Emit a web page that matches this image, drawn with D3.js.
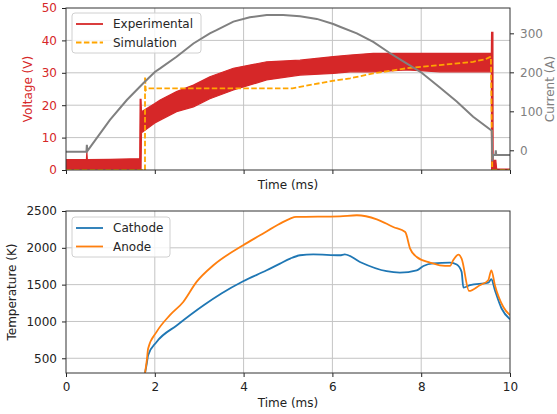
<!DOCTYPE html>
<html>
<head>
<meta charset="utf-8">
<script src="https://cdn.jsdelivr.net/npm/d3@7"></script>
<style>
  body { margin: 0; background: #fff; }
  svg { font-family: "DejaVu Sans", sans-serif; }
</style>
</head>
<body>
<svg id="chart" width="557" height="414"></svg>
<script>
// ---- top panel: experimental voltage (noisy band, read as lower/upper envelope)
var expTime  = [0, 0.46, 0.47, 0.48, 1.0, 1.66, 1.67, 1.69, 1.70, 2.0, 2.12, 2.49, 2.87, 3.24, 3.77, 4.52, 5.27, 6.02, 6.4, 6.92, 7.67, 8.42, 9.55, 9.58, 9.585, 9.615, 9.62, 9.64, 9.68, 9.7, 10];
var expLower = [0.3, 0.3, 0.3, 0.3, 0.3, 0.3, 0.3, 0.3, 11.5, 14.5, 15.4, 18.0, 19.5, 22.0, 24.7, 27.8, 29.3, 29.8, 30.3, 30.3, 30.9, 30.3, 30.3, 30.3, 0, 0, 0, 0, 0, 0, 0];
var expUpper = [3.2, 3.2, 5.6, 3.2, 3.3, 3.5, 21.8, 21.8, 18.0, 20.5, 21.6, 24.2, 26.2, 28.8, 31.4, 33.4, 33.9, 35.0, 35.5, 36.0, 36.0, 36.0, 36.0, 36.0, 42.5, 42.5, 0.3, 3.0, 3.0, 0.3, 0.3];

// simulated voltage
var simTime = [0, 1.779, 1.78, 1.795, 1.84, 5.1, 5.6, 6.0, 6.4, 6.92, 7.67, 8.42, 9.17, 9.45, 9.57, 9.6, 10];
var simVolt = [0, 0, 28.8, 24.6, 25.2, 25.2, 26.5, 27.5, 28.3, 29.8, 31.4, 32.4, 33.4, 34.2, 35.0, 0, 0];

// current (right axis)
var curTime = [0, 0.46, 0.47, 0.48, 0.5, 0.99, 1.37, 1.74, 2.0, 2.12, 2.49, 2.87, 3.24, 3.39, 3.77, 4.14, 4.52, 4.89, 5.27, 5.65, 6.02, 6.17, 6.55, 6.92, 7.3, 7.67, 8.01, 8.42, 8.8, 9.17, 9.59, 9.6, 9.62, 9.67, 9.68, 9.69, 10];
var current = [-4, -4, 14, -2, 1, 78, 129, 172, 201, 210, 240, 274, 300, 308, 330, 341, 347, 347, 344, 337, 324, 317, 300, 278, 249, 223, 199, 161, 125, 86, 50, -28, -12, -12, 0, -12, -12];

// ---- bottom panel: temperatures
var cathTime = [1.78, 1.82, 1.85, 2.04, 2.5, 3.1, 3.5, 3.99, 4.52, 4.82, 5.05, 5.27, 5.57, 6.17, 6.28, 6.62, 7.22, 7.52, 7.9, 8.05, 8.27, 8.65, 8.8, 8.91, 8.95, 9.1, 9.51, 9.58, 9.66, 9.81, 10];
var cathTemp = [300, 430, 542, 722, 949, 1220, 1380, 1546, 1695, 1786, 1854, 1899, 1912, 1899, 1912, 1808, 1682, 1664, 1695, 1754, 1790, 1800, 1773, 1673, 1460, 1492, 1528, 1573, 1424, 1176, 1030];
var anodTime = [1.78, 1.82, 1.85, 2.04, 2.34, 2.64, 2.94, 3.32, 3.99, 4.37, 4.82, 5.05, 5.18, 6.17, 6.55, 7.0, 7.37, 7.64, 7.75, 7.9, 8.2, 8.42, 8.65, 8.72, 8.84, 8.91, 9.08, 9.32, 9.51, 9.58, 9.66, 9.85, 10];
var anodTemp = [300, 470, 633, 858, 1085, 1265, 1537, 1763, 2035, 2170, 2329, 2397, 2419, 2428, 2442, 2387, 2283, 2215, 1990, 1876, 1800, 1763, 1754, 1831, 1908, 1854, 1414, 1492, 1560, 1695, 1492, 1197, 1085];

var timeTicks = [0, 2, 4, 6, 8, 10];
var voltTicks = [0, 10, 20, 30, 40, 50];
var curTicks = [0, 100, 200, 300];
var tempTicks = [500, 1000, 1500, 2000, 2500];

var RED = "#d62728", ORANGE = "#ffa500", GREY = "#808080";
var BLUE = "#1f77b4", AORANGE = "#ff7f0e", GRID = "#c4c4c4";

var svg = d3.select("#chart");
var left = 66, right = 510;

var x = d3.scaleLinear().domain([0, 10]).range([left, right]);

// top panel
var t1 = 8, b1 = 170;
var yV = d3.scaleLinear().domain([0, 50]).range([b1, t1]);
var yI = d3.scaleLinear().domain([-50.5, 365]).range([b1, t1]);
// bottom panel
var t2 = 211, b2 = 373;
var yT = d3.scaleLinear().domain([300, 2500]).range([b2, t2]);

function clip(id, top, bottom) {
  svg.append("clipPath").attr("id", id).append("rect")
    .attr("x", left).attr("y", top).attr("width", right - left).attr("height", bottom - top);
}
clip("c1", t1, b1);
clip("c2", t2, b2);

function grid(yScale, yVals, top, bottom) {
  var g = svg.append("g");
  g.selectAll(".vg").data([2, 4, 6, 8]).enter().append("line")
    .attr("x1", d => x(d)).attr("x2", d => x(d))
    .attr("y1", top).attr("y2", bottom)
    .style("stroke", GRID).style("stroke-width", 1);
  g.selectAll(".hg").data(yVals).enter().append("line")
    .attr("x1", left).attr("x2", right)
    .attr("y1", d => yScale(d)).attr("y2", d => yScale(d))
    .style("stroke", GRID).style("stroke-width", 1);
}
grid(yV, [10, 20, 30, 40], t1, b1);
grid(yT, [500, 1000, 1500, 2000], t2, b2);

// ---- top panel marks
var band = d3.area()
  .x((d, i) => x(expTime[i]))
  .y0((d, i) => yV(expLower[i]))
  .y1((d, i) => yV(expUpper[i]));
svg.append("path").datum(expTime)
  .attr("clip-path", "url(#c1)")
  .attr("d", band)
  .style("fill", RED).style("stroke", RED).style("stroke-width", 1.2);

var simLine = d3.line().x((d, i) => x(simTime[i])).y(d => yV(d));
svg.append("path").datum(simVolt)
  .attr("clip-path", "url(#c1)")
  .attr("d", simLine)
  .style("fill", "none").style("stroke", ORANGE)
  .style("stroke-width", 1.8).style("stroke-dasharray", "5.5,2.4");

// legend boxes
function legend(top, h, w, items) {
  var g = svg.append("g");
  g.append("rect").attr("x", 72).attr("y", top).attr("width", w).attr("height", h)
    .attr("rx", 3).style("fill", "#fff").style("fill-opacity", 0.8)
    .style("stroke", "#d0d0d0").style("stroke-width", 1);
  items.forEach(function(it, i) {
    var cy = top + 11 + i * 18.5;
    g.append("line").attr("x1", 76).attr("x2", 103).attr("y1", cy).attr("y2", cy)
      .style("stroke", it.color).style("stroke-width", 1.8)
      .style("stroke-dasharray", it.dash || null);
    g.append("text").attr("x", 113).attr("y", cy + 4.3).text(it.label)
      .style("font-size", "12px").style("fill", "#262626");
  });
}
legend(13, 40, 129, [
  { label: "Experimental", color: RED },
  { label: "Simulation", color: ORANGE, dash: "5.5,2.4" }
]);

// current on the twin axis, drawn above
var curLine = d3.line().x((d, i) => x(curTime[i])).y(d => yI(d));
svg.append("path").datum(current)
  .attr("clip-path", "url(#c1)")
  .attr("d", curLine)
  .style("fill", "none").style("stroke", GREY).style("stroke-width", 2);

// ---- bottom panel marks
var cathLine = d3.line().curve(d3.curveMonotoneX).x((d, i) => x(cathTime[i])).y(d => yT(d));
var anodLine = d3.line().curve(d3.curveMonotoneX).x((d, i) => x(anodTime[i])).y(d => yT(d));
svg.append("path").datum(cathTemp).attr("clip-path", "url(#c2)").attr("d", cathLine)
  .style("fill", "none").style("stroke", BLUE).style("stroke-width", 1.8);
svg.append("path").datum(anodTemp).attr("clip-path", "url(#c2)").attr("d", anodLine)
  .style("fill", "none").style("stroke", AORANGE).style("stroke-width", 1.8);

legend(217, 40, 98, [
  { label: "Cathode", color: BLUE },
  { label: "Anode", color: AORANGE }
]);

// ---- axes
function styleAxis(g, color) {
  g.select(".domain").remove();
  g.selectAll(".tick line").style("stroke", "#222").style("stroke-width", 1);
  g.selectAll(".tick text").style("font-size", "12px").style("fill", color)
    .style("font-family", '"DejaVu Sans", sans-serif');
}

svg.append("g").attr("transform", "translate(0," + b1 + ")")
  .call(d3.axisBottom(x).tickValues(timeTicks).tickFormat("").tickSize(4))
  .call(g => styleAxis(g, "#222"));
svg.append("g").attr("transform", "translate(" + left + ",0)")
  .call(d3.axisLeft(yV).tickValues(voltTicks).tickSize(4).tickPadding(5))
  .call(g => styleAxis(g, RED));
svg.append("g").attr("transform", "translate(" + right + ",0)")
  .call(d3.axisRight(yI).tickValues(curTicks).tickSize(4).tickPadding(6))
  .call(g => styleAxis(g, GREY));

svg.append("g").attr("transform", "translate(0," + b2 + ")")
  .call(d3.axisBottom(x).tickValues(timeTicks).tickFormat(d3.format("d")).tickSize(4).tickPadding(5.5))
  .call(g => styleAxis(g, "#222"));
svg.append("g").attr("transform", "translate(" + left + ",0)")
  .call(d3.axisLeft(yT).tickValues(tempTicks).tickFormat(d3.format("d")).tickSize(4).tickPadding(5))
  .call(g => styleAxis(g, "#222"));

// frames
[[t1, b1], [t2, b2]].forEach(function(p) {
  svg.append("rect").attr("x", left).attr("y", p[0])
    .attr("width", right - left).attr("height", p[1] - p[0])
    .style("fill", "none").style("stroke", "#333").style("stroke-width", 1);
});

// labels
function label(txt, xx, yy, rot, color) {
  svg.append("text")
    .attr("transform", "translate(" + xx + "," + yy + ")" + (rot ? " rotate(-90)" : ""))
    .attr("text-anchor", "middle")
    .style("font-size", "12px").style("fill", color)
    .text(txt);
}
label("Time (ms)", (left + right) / 2, 189, false, "#222");
label("Time (ms)", (left + right) / 2, 407, false, "#222");
label("Voltage (V)", 32, (t1 + b1) / 2, true, RED);
label("Current (A)", 553.5, (t1 + b1) / 2, true, GREY);
label("Temperature (K)", 15.5, (t2 + b2) / 2, true, "#222");
</script>
</body>
</html>
